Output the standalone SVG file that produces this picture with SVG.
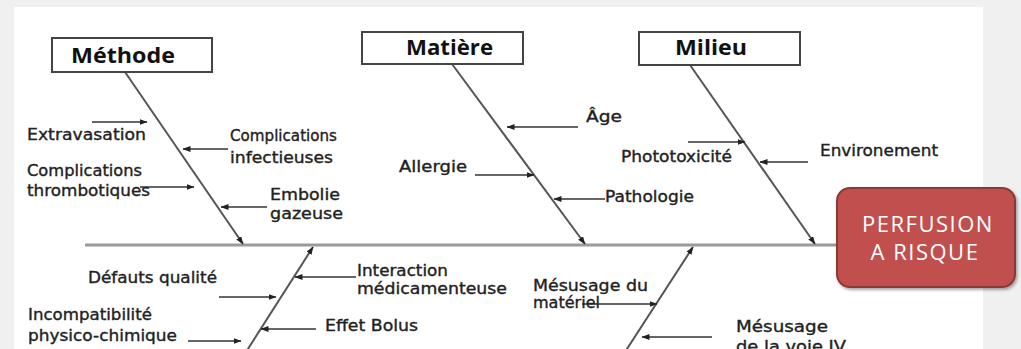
<svg xmlns="http://www.w3.org/2000/svg" width="1021" height="349" viewBox="0 0 1021 349">
<defs>
<marker id="ah" markerUnits="userSpaceOnUse" markerWidth="8" markerHeight="6" refX="7.5" refY="3" orient="auto">
<path d="M0,0 L8,3 L0,6 z" fill="#222"/>
</marker>
<filter id="sh" x="-10%" y="-10%" width="130%" height="130%">
<feDropShadow dx="1.5" dy="2" stdDeviation="1.5" flood-color="#000" flood-opacity="0.35"/>
</filter>
<style>
.hbox{fill:#fff;stroke:#444;stroke-width:2}
.htxt{font-family:"Open Sans","Liberation Sans",Arial,sans-serif;font-weight:bold;font-size:21px;fill:#111}
.lbl{font-family:"DejaVu Sans","Liberation Sans",sans-serif;font-size:15px;fill:#222;stroke:#222;stroke-width:0.35}
.bone{stroke:#555;stroke-width:2;fill:none}
.spine{stroke:#9a9a9a;stroke-width:3;fill:none}
.arr{stroke:#333;stroke-width:1.6;fill:none}
.etxt{font-family:"Open Sans","Liberation Sans",sans-serif;font-size:22px;fill:#fff;letter-spacing:1.5px}
</style>
</defs>
<rect width="1021" height="349" fill="#f0f0f0"/>
<rect x="14" y="7" width="969" height="342" fill="#fff"/>

<g id="connectors">
<line class="spine" x1="85" y1="245" x2="838" y2="245"/>
<line class="bone" x1="125" y1="72" x2="243" y2="244" marker-end="url(#ah)"/>
<line class="bone" x1="452" y1="64" x2="585" y2="244" marker-end="url(#ah)"/>
<line class="bone" x1="690" y1="65" x2="815" y2="244" marker-end="url(#ah)"/>
<line class="bone" x1="246" y1="352" x2="313" y2="247" marker-end="url(#ah)"/>
<line class="bone" x1="625" y1="352" x2="693" y2="247" marker-end="url(#ah)"/>
<line class="arr" x1="92" y1="122" x2="147" y2="122" marker-end="url(#ah)"/>
<line class="arr" x1="228" y1="149" x2="183" y2="149" marker-end="url(#ah)"/>
<line class="arr" x1="140" y1="187" x2="194" y2="187" marker-end="url(#ah)"/>
<line class="arr" x1="267" y1="207" x2="221" y2="207" marker-end="url(#ah)"/>
<line class="arr" x1="578" y1="127" x2="507" y2="127" marker-end="url(#ah)"/>
<line class="arr" x1="475" y1="175" x2="534" y2="175" marker-end="url(#ah)"/>
<line class="arr" x1="605" y1="199" x2="554" y2="199" marker-end="url(#ah)"/>
<line class="arr" x1="688" y1="142" x2="745" y2="142" marker-end="url(#ah)"/>
<line class="arr" x1="808" y1="162" x2="760" y2="162" marker-end="url(#ah)"/>
<line class="arr" x1="219" y1="297" x2="276" y2="297" marker-end="url(#ah)"/>
<line class="arr" x1="356" y1="277" x2="295" y2="277" marker-end="url(#ah)"/>
<line class="arr" x1="316" y1="329" x2="261" y2="329" marker-end="url(#ah)"/>
<line class="arr" x1="188" y1="341" x2="241" y2="341" marker-end="url(#ah)"/>
<line class="arr" x1="582" y1="304" x2="657" y2="304" marker-end="url(#ah)"/>
<line class="arr" x1="712" y1="337" x2="642" y2="337" marker-end="url(#ah)"/>
</g>

<g id="methode">
<rect class="hbox" x="52" y="38" width="160" height="34"/>
<text class="htxt" x="71" y="63" textLength="104" lengthAdjust="spacingAndGlyphs">Méthode</text>
</g>
<g id="matiere">
<rect class="hbox" x="362" y="32" width="161" height="32"/>
<text class="htxt" x="406" y="55" textLength="87" lengthAdjust="spacingAndGlyphs">Matière</text>
</g>
<g id="milieu">
<rect class="hbox" x="639" y="32" width="161" height="33"/>
<text class="htxt" x="675" y="55" textLength="72" lengthAdjust="spacingAndGlyphs">Milieu</text>
</g>

<g id="perfusion">
<rect x="837" y="188" width="178" height="99" rx="13" ry="13" fill="#c0504d" stroke="#8c3836" stroke-width="2" filter="url(#sh)"/>
<text class="etxt" x="928" y="232" text-anchor="middle">PERFUSION</text>
<text class="etxt" x="925" y="260" text-anchor="middle">A RISQUE</text>
</g>

<g id="causes-methode">
<text class="lbl" x="27" y="140" textLength="119" lengthAdjust="spacingAndGlyphs">Extravasation</text>
<text class="lbl" x="230" y="141" textLength="107" lengthAdjust="spacingAndGlyphs">Complications</text>
<text class="lbl" x="230" y="163" textLength="103" lengthAdjust="spacingAndGlyphs">infectieuses</text>
<text class="lbl" x="27" y="176" textLength="115" lengthAdjust="spacingAndGlyphs">Complications</text>
<text class="lbl" x="27" y="196" textLength="123" lengthAdjust="spacingAndGlyphs">thrombotiques</text>
<text class="lbl" x="270" y="200" textLength="70" lengthAdjust="spacingAndGlyphs">Embolie</text>
<text class="lbl" x="270" y="219" textLength="73" lengthAdjust="spacingAndGlyphs">gazeuse</text>
</g>
<g id="causes-matiere">
<text class="lbl" x="586" y="122" textLength="36" lengthAdjust="spacingAndGlyphs">Âge</text>
<text class="lbl" x="399" y="172" textLength="68" lengthAdjust="spacingAndGlyphs">Allergie</text>
<text class="lbl" x="605" y="202" textLength="89" lengthAdjust="spacingAndGlyphs">Pathologie</text>
</g>
<g id="causes-milieu">
<text class="lbl" x="621" y="162" textLength="111" lengthAdjust="spacingAndGlyphs">Phototoxicité</text>
<text class="lbl" x="820" y="156" textLength="118" lengthAdjust="spacingAndGlyphs">Environement</text>
</g>
<g id="causes-materiel">
<text class="lbl" x="88" y="283" textLength="129" lengthAdjust="spacingAndGlyphs">Défauts qualité</text>
<text class="lbl" x="357" y="276" textLength="91" lengthAdjust="spacingAndGlyphs">Interaction</text>
<text class="lbl" x="357" y="294" textLength="150" lengthAdjust="spacingAndGlyphs">médicamenteuse</text>
<text class="lbl" x="28" y="320" textLength="124" lengthAdjust="spacingAndGlyphs">Incompatibilité</text>
<text class="lbl" x="28" y="341" textLength="149" lengthAdjust="spacingAndGlyphs">physico-chimique</text>
<text class="lbl" x="325" y="331" textLength="93" lengthAdjust="spacingAndGlyphs">Effet Bolus</text>
</g>
<g id="causes-mainoeuvre">
<text class="lbl" x="533" y="291" textLength="115" lengthAdjust="spacingAndGlyphs">Mésusage du</text>
<text class="lbl" x="533" y="308" textLength="67" lengthAdjust="spacingAndGlyphs">matériel</text>
<text class="lbl" x="736" y="332" textLength="92" lengthAdjust="spacingAndGlyphs">Mésusage</text>
<text class="lbl" x="736" y="352" textLength="110" lengthAdjust="spacingAndGlyphs">de la voie IV</text>
</g>
</svg>
